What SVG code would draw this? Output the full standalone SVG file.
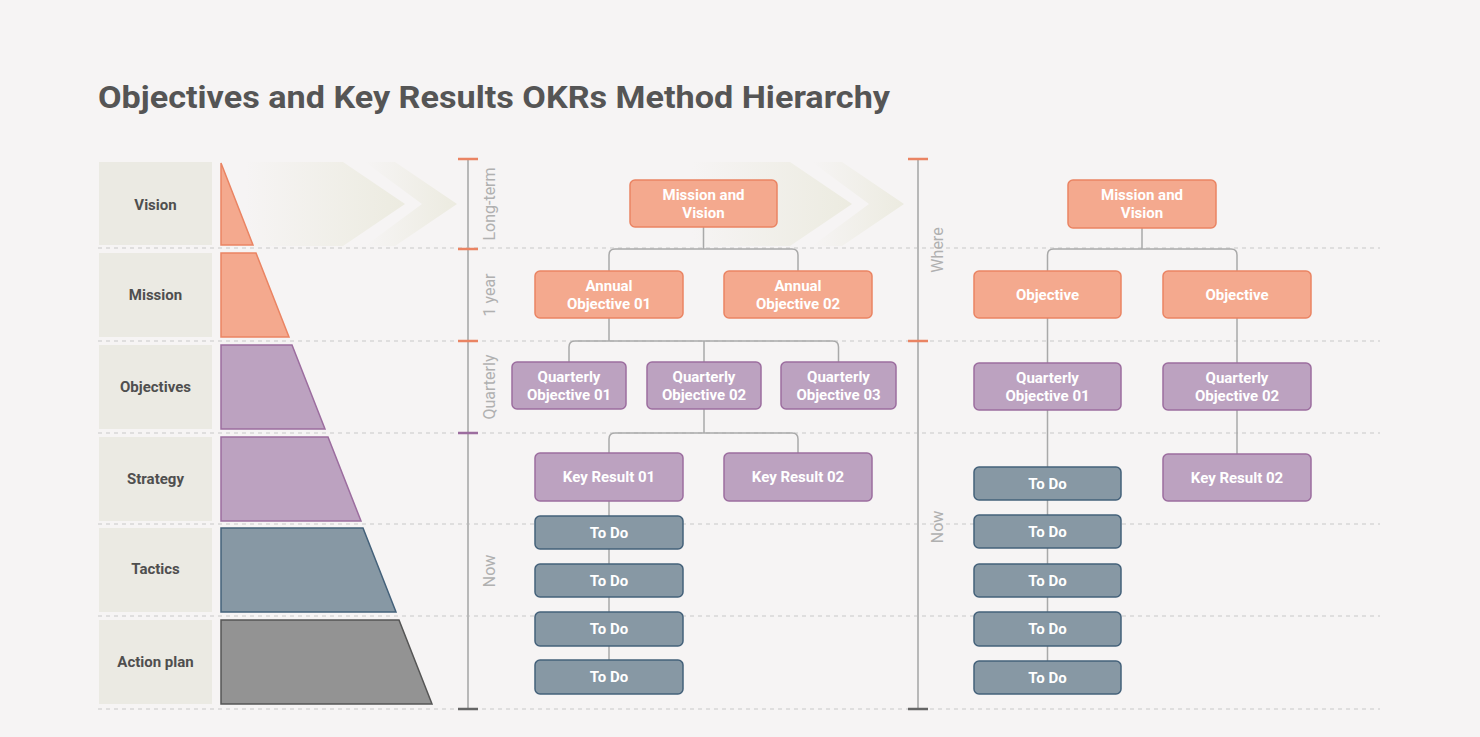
<svg xmlns="http://www.w3.org/2000/svg" width="1480" height="737" viewBox="0 0 1480 737">
<defs>
<linearGradient id="g1" gradientUnits="userSpaceOnUse" x1="245" y1="0" x2="405" y2="0">
<stop offset="0" stop-color="#ecebe0" stop-opacity="0"/>
<stop offset="1" stop-color="#ecebe0" stop-opacity="1"/>
</linearGradient>
<linearGradient id="g2" gradientUnits="userSpaceOnUse" x1="365" y1="0" x2="457" y2="0">
<stop offset="0" stop-color="#ecebe0" stop-opacity="0"/>
<stop offset="1" stop-color="#ecebe0" stop-opacity="1"/>
</linearGradient>
<linearGradient id="g3" gradientUnits="userSpaceOnUse" x1="692" y1="0" x2="852" y2="0">
<stop offset="0" stop-color="#ecebe0" stop-opacity="0"/>
<stop offset="1" stop-color="#ecebe0" stop-opacity="1"/>
</linearGradient>
<linearGradient id="g4" gradientUnits="userSpaceOnUse" x1="812" y1="0" x2="904" y2="0">
<stop offset="0" stop-color="#ecebe0" stop-opacity="0"/>
<stop offset="1" stop-color="#ecebe0" stop-opacity="1"/>
</linearGradient>
<style>
.t{font-family:"Roboto","Liberation Sans",sans-serif;font-weight:700;}
.title{font-size:32px;fill:#555555;}
.lab{font-size:15px;fill:#4f4f4f;text-anchor:middle;dominant-baseline:central;}
.nt{font-size:15px;fill:#ffffff;text-anchor:middle;dominant-baseline:central;}
.sc{font-family:"Roboto","Liberation Sans",sans-serif;font-size:16px;fill:#b0b0b0;text-anchor:middle;dominant-baseline:central;}
.lb{fill:#ebeae3;}
.dot{stroke:#c8c8c8;stroke-width:1.2;stroke-dasharray:4 4;fill:none;}
.o{fill:#f4a98e;stroke:#ea8463;stroke-width:1.5;}
.p{fill:#bca2c0;stroke:#9c6d9f;stroke-width:1.5;}
.b{fill:#8798a4;stroke:#44617a;stroke-width:1.5;}
.g{fill:#939393;stroke:#555555;stroke-width:1.5;}
.con{fill:none;stroke:#a9a9a9;stroke-width:1.5;}
.axis{stroke:#b8b8b8;stroke-width:2;}
</style>
</defs>
<rect x="0" y="0" width="1480" height="737" fill="#f6f4f4"/>
<text class="t title" x="98" y="108" textLength="792" lengthAdjust="spacingAndGlyphs">Objectives and Key Results OKRs Method Hierarchy</text>

<!-- chevrons -->
<g id="chevrons">
<polygon points="245,162 343,162 405,204 343,246 245,246" fill="url(#g1)"/>
<polygon points="365,162 395,162 457,204 395,246 365,246 422,204" fill="url(#g2)"/>
<polygon points="692,162 790,162 852,204 790,246 692,246" fill="url(#g3)"/>
<polygon points="812,162 842,162 904,204 842,246 812,246 869,204" fill="url(#g4)"/>
</g>

<!-- dotted row lines -->
<g id="gridlines">
<line class="dot" x1="98" y1="248" x2="1380" y2="248"/>
<line class="dot" x1="98" y1="341" x2="1380" y2="341"/>
<line class="dot" x1="98" y1="433" x2="1380" y2="433"/>
<line class="dot" x1="98" y1="524" x2="1380" y2="524"/>
<line class="dot" x1="98" y1="616" x2="1380" y2="616"/>
<line class="dot" x1="98" y1="709" x2="1380" y2="709"/>
</g>

<!-- left labels -->
<g id="label-vision"><rect class="lb" x="99" y="162" width="113" height="83"/><text class="t lab" x="155.5" y="205">Vision</text></g>
<g id="label-mission"><rect class="lb" x="99" y="253" width="113" height="84"/><text class="t lab" x="155.5" y="295">Mission</text></g>
<g id="label-objectives"><rect class="lb" x="99" y="345" width="113" height="84"/><text class="t lab" x="155.5" y="387">Objectives</text></g>
<g id="label-strategy"><rect class="lb" x="99" y="437" width="113" height="84"/><text class="t lab" x="155.5" y="479">Strategy</text></g>
<g id="label-tactics"><rect class="lb" x="99" y="528" width="113" height="84"/><text class="t lab" x="155.5" y="569">Tactics</text></g>
<g id="label-action"><rect class="lb" x="99" y="620" width="113" height="84"/><text class="t lab" x="155.5" y="662">Action plan</text></g>

<!-- pyramid -->
<g id="pyramid">
<polygon class="o" points="221,163 253,245 221,245"/>
<polygon class="o" points="221,253 256,253 289,337 221,337"/>
<polygon class="p" points="221,345 292,345 325,429 221,429"/>
<polygon class="p" points="221,437 328,437 361,521 221,521"/>
<polygon class="b" points="221,528 363,528 396,612 221,612"/>
<polygon class="g" points="221,620 399,620 432,704 221,704"/>
</g>

<!-- scales -->
<g id="scale-left">
<line class="axis" x1="468" y1="159" x2="468" y2="709"/>
<line x1="458" y1="159" x2="478" y2="159" stroke="#ea8463" stroke-width="2.5"/>
<line x1="458" y1="249" x2="478" y2="249" stroke="#ea8463" stroke-width="2.5"/>
<line x1="458" y1="341" x2="478" y2="341" stroke="#ea8463" stroke-width="2.5"/>
<line x1="458" y1="433" x2="478" y2="433" stroke="#9c6d9f" stroke-width="2.5"/>
<line x1="458" y1="709" x2="478" y2="709" stroke="#666666" stroke-width="2.5"/>
<text class="sc" transform="translate(489,204) rotate(-90)">Long-term</text>
<text class="sc" transform="translate(489,295) rotate(-90)">1 year</text>
<text class="sc" transform="translate(489,387) rotate(-90)">Quarterly</text>
<text class="sc" transform="translate(489,571) rotate(-90)">Now</text>
</g>
<g id="scale-right">
<line class="axis" x1="918" y1="159" x2="918" y2="709"/>
<line x1="908" y1="159" x2="928" y2="159" stroke="#ea8463" stroke-width="2.5"/>
<line x1="908" y1="341" x2="928" y2="341" stroke="#ea8463" stroke-width="2.5"/>
<line x1="908" y1="709" x2="928" y2="709" stroke="#666666" stroke-width="2.5"/>
<text class="sc" transform="translate(937,250) rotate(-90)">Where</text>
<text class="sc" transform="translate(937,527) rotate(-90)">Now</text>
</g>

<!-- connectors -->
<g id="connectors">
<path class="con" d="M703.5,227 V249 M609,271 V255 Q609,249 615,249 H792 Q798,249 798,255 V271"/>
<path class="con" d="M609,318 V341 M569,362 V347 Q569,341 575,341 H832.5 Q838.5,341 838.5,347 V362 M704,341 V362"/>
<path class="con" d="M704,409 V433 M609,453 V439 Q609,433 615,433 H792 Q798,433 798,439 V453"/>
<path class="con" d="M609,501 V516 M609,549 V564 M609,597 V612 M609,646 V660"/>
<path class="con" d="M1142,228 V249 M1047.5,271 V255 Q1047.5,249 1053.5,249 H1231 Q1237,249 1237,255 V271"/>
<path class="con" d="M1047.5,318 V363 M1237,318 V363 M1047.5,410 V467 M1237,410 V454"/>
<path class="con" d="M1047.5,500 V515 M1047.5,548 V564 M1047.5,597 V612 M1047.5,646 V661"/>
</g>

<!-- left tree nodes -->
<g id="l-mission"><rect class="o" x="630" y="180" width="147" height="47" rx="5"/><text class="t nt" x="703.5" y="194.5">Mission and</text><text class="t nt" x="703.5" y="212.5">Vision</text></g>
<g id="l-annual1"><rect class="o" x="535" y="271" width="148" height="47" rx="5"/><text class="t nt" x="609" y="285.5">Annual</text><text class="t nt" x="609" y="303.5">Objective 01</text></g>
<g id="l-annual2"><rect class="o" x="724" y="271" width="148" height="47" rx="5"/><text class="t nt" x="798" y="285.5">Annual</text><text class="t nt" x="798" y="303.5">Objective 02</text></g>
<g id="l-q1"><rect class="p" x="512" y="362" width="114" height="47" rx="5"/><text class="t nt" x="569" y="376.5">Quarterly</text><text class="t nt" x="569" y="394.5">Objective 01</text></g>
<g id="l-q2"><rect class="p" x="647" y="362" width="114" height="47" rx="5"/><text class="t nt" x="704" y="376.5">Quarterly</text><text class="t nt" x="704" y="394.5">Objective 02</text></g>
<g id="l-q3"><rect class="p" x="781" y="362" width="115" height="47" rx="5"/><text class="t nt" x="838.5" y="376.5">Quarterly</text><text class="t nt" x="838.5" y="394.5">Objective 03</text></g>
<g id="l-kr1"><rect class="p" x="535" y="453" width="148" height="48" rx="5"/><text class="t nt" x="609" y="477">Key Result 01</text></g>
<g id="l-kr2"><rect class="p" x="724" y="453" width="148" height="48" rx="5"/><text class="t nt" x="798" y="477">Key Result 02</text></g>
<g id="l-todo1"><rect class="b" x="535" y="516" width="148" height="33" rx="5"/><text class="t nt" x="609" y="532.5">To Do</text></g>
<g id="l-todo2"><rect class="b" x="535" y="564" width="148" height="33" rx="5"/><text class="t nt" x="609" y="580.5">To Do</text></g>
<g id="l-todo3"><rect class="b" x="535" y="612" width="148" height="34" rx="5"/><text class="t nt" x="609" y="629">To Do</text></g>
<g id="l-todo4"><rect class="b" x="535" y="660" width="148" height="34" rx="5"/><text class="t nt" x="609" y="677">To Do</text></g>

<!-- right tree nodes -->
<g id="r-mission"><rect class="o" x="1068" y="180" width="148" height="48" rx="5"/><text class="t nt" x="1142" y="195">Mission and</text><text class="t nt" x="1142" y="213">Vision</text></g>
<g id="r-obj1"><rect class="o" x="974" y="271" width="147" height="47" rx="5"/><text class="t nt" x="1047.5" y="294.5">Objective</text></g>
<g id="r-obj2"><rect class="o" x="1163" y="271" width="148" height="47" rx="5"/><text class="t nt" x="1237" y="294.5">Objective</text></g>
<g id="r-q1"><rect class="p" x="974" y="363" width="147" height="47" rx="5"/><text class="t nt" x="1047.5" y="377.5">Quarterly</text><text class="t nt" x="1047.5" y="395.5">Objective 01</text></g>
<g id="r-q2"><rect class="p" x="1163" y="363" width="148" height="47" rx="5"/><text class="t nt" x="1237" y="377.5">Quarterly</text><text class="t nt" x="1237" y="395.5">Objective 02</text></g>
<g id="r-kr2"><rect class="p" x="1163" y="454" width="148" height="47" rx="5"/><text class="t nt" x="1237" y="477.5">Key Result 02</text></g>
<g id="r-todo1"><rect class="b" x="974" y="467" width="147" height="33" rx="5"/><text class="t nt" x="1047.5" y="483.5">To Do</text></g>
<g id="r-todo2"><rect class="b" x="974" y="515" width="147" height="33" rx="5"/><text class="t nt" x="1047.5" y="531.5">To Do</text></g>
<g id="r-todo3"><rect class="b" x="974" y="564" width="147" height="33" rx="5"/><text class="t nt" x="1047.5" y="580.5">To Do</text></g>
<g id="r-todo4"><rect class="b" x="974" y="612" width="147" height="34" rx="5"/><text class="t nt" x="1047.5" y="629">To Do</text></g>
<g id="r-todo5"><rect class="b" x="974" y="661" width="147" height="33" rx="5"/><text class="t nt" x="1047.5" y="677.5">To Do</text></g>
</svg>
